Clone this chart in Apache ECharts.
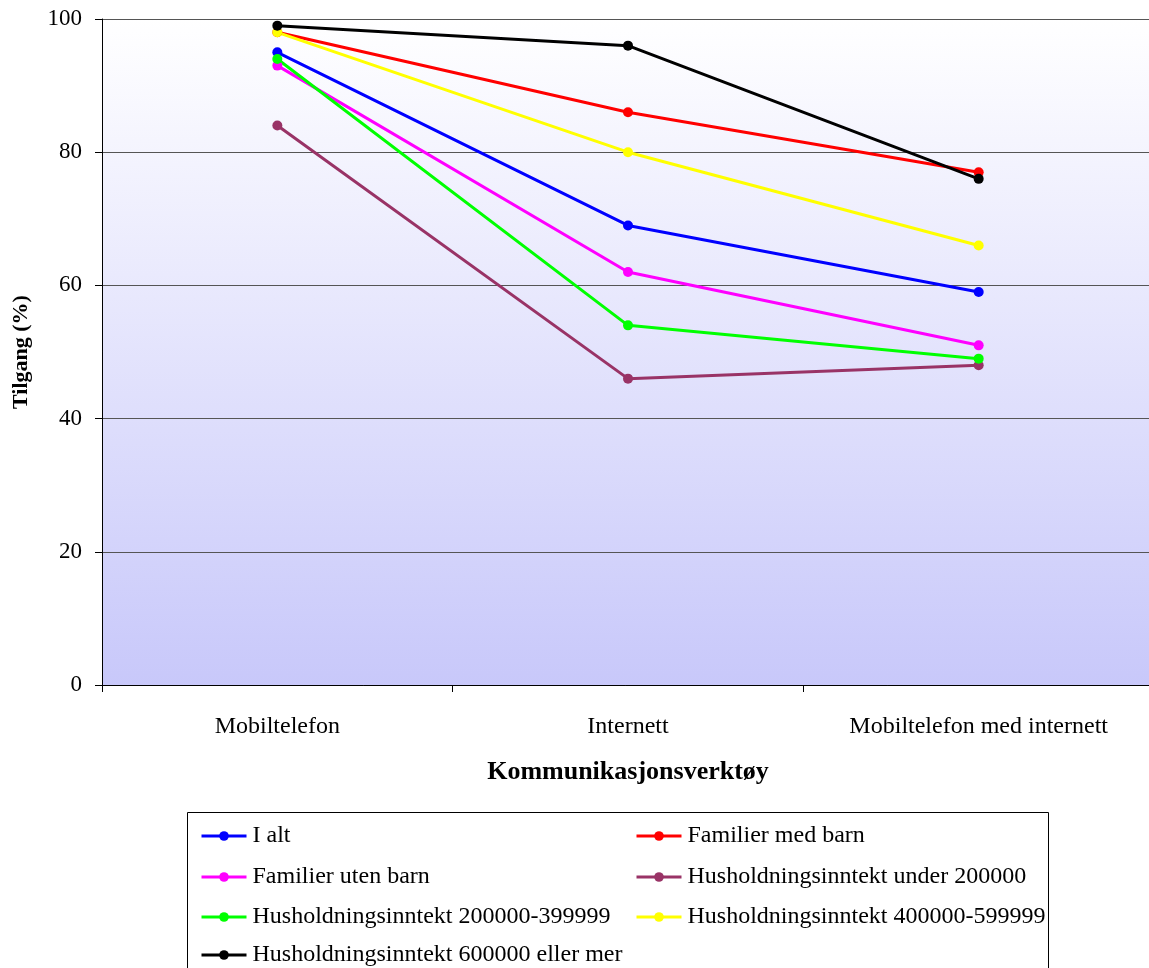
<!DOCTYPE html>
<html><head><meta charset="utf-8">
<script src="https://cdn.jsdelivr.net/npm/echarts@6/dist/echarts.min.js"></script>
<style>html,body{margin:0;padding:0;background:#fff}#c{width:1149px;height:968px}</style>
</head><body><div id="c"></div>
<script>
const categories = ['Mobiltelefon', 'Internett', 'Mobiltelefon med internett'];
const seriesNames = ['I alt', 'Familier med barn', 'Familier uten barn', 'Husholdningsinntekt under 200000', 'Husholdningsinntekt 200000-399999', 'Husholdningsinntekt 400000-599999', 'Husholdningsinntekt 600000 eller mer'];
const iAlt = [95, 69, 59];
const familierMedBarn = [98, 86, 77];
const familierUtenBarn = [93, 62, 51];
const under200000 = [84, 46, 48];
const inntekt200to399 = [94, 54, 49];
const inntekt400to599 = [98, 80, 66];
const inntekt600pluss = [99, 96, 76];
const yTicks = [0, 20, 40, 60, 80, 100];

const values = [iAlt, familierMedBarn, familierUtenBarn, under200000, inntekt200to399, inntekt400to599, inntekt600pluss];
const colors = ['#0000ff', '#ff0000', '#ff00ff', '#993366', '#00ff00', '#ffff00', '#000000'];
const font = 'Liberation Serif';

const legendPos = [
  {left: 200, top: 824}, {left: 635, top: 824},
  {left: 200, top: 865}, {left: 635, top: 865},
  {left: 200, top: 905}, {left: 635, top: 905},
  {left: 200, top: 943}
];

const chart = echarts.init(document.getElementById('c'));
chart.setOption({
  animation: false,
  backgroundColor: '#ffffff',
  grid: {
    left: 102, right: -5, top: 19, bottom: 283, show: true, borderWidth: 0,
    outerBoundsMode: 'none', containLabel: false,
    backgroundColor: {type: 'linear', x: 0, y: 0, x2: 0, y2: 1,
      colorStops: [{offset: 0, color: '#ffffff'}, {offset: 1, color: '#c8c8fa'}]}
  },
  graphic: [{
    type: 'rect', shape: {x: 187.5, y: 812.5, width: 861, height: 170},
    style: {fill: 'none', stroke: '#000', lineWidth: 1}, z: 0
  }],
  legend: seriesNames.map((n, i) => ({
    data: [n], left: legendPos[i].left, top: legendPos[i].top,
    itemWidth: 45, itemHeight: 12, itemGap: 4, padding: 0,
    lineStyle: {width: 3},
    textStyle: {fontFamily: font, fontSize: 24, lineHeight: 24, color: '#000', padding: [0, 0, 0, 1]}
  })),
  xAxis: {
    type: 'category', data: categories, boundaryGap: true,
    axisLine: {lineStyle: {color: '#000', width: 1}},
    axisTick: {show: true, length: 7, lineStyle: {color: '#000'}},
    axisLabel: {fontFamily: font, fontSize: 24, color: '#000', margin: 30},
    name: 'Kommunikasjonsverktøy', nameLocation: 'middle', nameGap: 74,
    nameTextStyle: {fontFamily: font, fontSize: 26, fontWeight: 'bold', color: '#000'}
  },
  yAxis: {
    type: 'value', min: 0, max: 100, interval: 20,
    axisLine: {show: true, lineStyle: {color: '#000', width: 1}},
    axisTick: {show: true, length: 7, lineStyle: {color: '#000'}},
    axisLabel: {fontFamily: font, fontSize: 23, color: '#000', margin: 20},
    splitLine: {show: true, lineStyle: {color: '#555', width: 1}},
    name: 'Tilgang (%)', nameLocation: 'middle', nameGap: 70,
    nameTextStyle: {fontFamily: font, fontSize: 22, fontWeight: 'bold', color: '#000'}
  },
  series: seriesNames.map((n, i) => ({
    name: n, type: 'line', data: values[i],
    color: colors[i], symbol: 'circle', symbolSize: 10,
    lineStyle: {width: 3, color: colors[i]},
    itemStyle: {color: colors[i]}
  }))
});
</script></body></html>
